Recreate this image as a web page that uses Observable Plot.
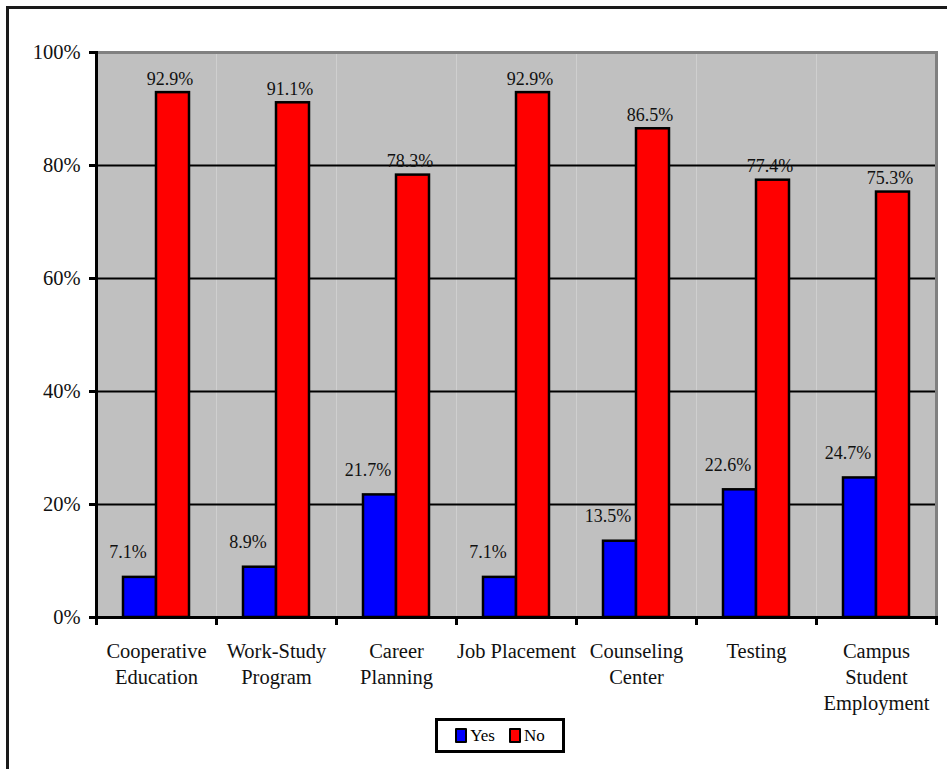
<!DOCTYPE html>
<html>
<head>
<meta charset="utf-8">
<script src="https://cdn.jsdelivr.net/npm/d3@7"></script>
<script src="https://cdn.jsdelivr.net/npm/@observablehq/plot@0.6"></script>
<style>
  html, body { margin: 0; padding: 0; background: #fff; overflow: hidden; width: 947px; height: 769px; }
  #outer { position: absolute; left: 6px; top: 6px; width: 941px; height: 763px; border-left: 3px solid #1a1a1a; border-top: 3px solid #1a1a1a; box-sizing: border-box; }
  #chart { position: absolute; left: 0; top: 0; width: 947px; height: 720px; overflow: hidden; }
  #legend { position: absolute; left: 435px; top: 718px; width: 130px; height: 35px; border: 3px solid #000; box-sizing: border-box;
    display: flex; align-items: center; justify-content: center; gap: 14px; font-family: "Liberation Serif", "Times New Roman", serif; font-size: 17px; color: #000; background: #fff; }
  .item { display: flex; align-items: center; gap: 3px; }
  .sw { width: 8px; height: 11px; border: 2px solid #000; border-radius: 1px; }
</style>
</head>
<body>
<div id="outer"></div>
<div id="chart"></div>
<div id="legend"></div>
<script>
const categories = ["Cooperative Education", "Work-Study Program", "Career Planning", "Job Placement", "Counseling Center", "Testing", "Campus Student Employment"];
const tickLabels = ["Cooperative\nEducation", "Work-Study\nProgram", "Career\nPlanning", "Job Placement", "Counseling\nCenter", "Testing", "Campus\nStudent\nEmployment"];
const yesValues = [7.1, 8.9, 21.7, 7.1, 13.5, 22.6, 24.7];
const noValues = [92.9, 91.1, 78.3, 92.9, 86.5, 77.4, 75.3];
const seriesNames = ["Yes", "No"];
const seriesColors = ["#0000ff", "#ff0000"];
const yTicks = [0, 20, 40, 60, 80, 100];

const yesData = categories.map((c, i) => ({category: c, series: "Yes", value: yesValues[i]}));
const noData = categories.map((c, i) => ({category: c, series: "No", value: noValues[i]}));
const data = yesData.concat(noData);

const W = 947, H = 720, mT = 52, mB = 103, mL = 95, mR = 10;
const plotH = H - mT - mB;
const fmt = d => d.value.toFixed(1) + "%";

const chart = Plot.plot({
  width: W, height: H,
  marginTop: mT, marginBottom: mB, marginLeft: mL, marginRight: mR,
  style: {fontFamily: "'Liberation Serif', 'Times New Roman', serif", fontSize: "20.5px", color: "#000", background: "transparent"},
  fx: {domain: categories, padding: 0, label: null},
  x: {domain: seriesNames, paddingInner: 0, paddingOuter: 0.78, axis: null},
  y: {domain: [0, 100], label: null},
  color: {domain: seriesNames, range: seriesColors},
  marks: [
    Plot.frame({fill: "#c0c0c0", stroke: null}),
    Plot.gridY(yTicks.slice(1, -1), {stroke: "#000", strokeOpacity: 1, strokeWidth: 2}),
    Plot.ruleY([100], {stroke: "#808080", strokeWidth: 3}),
    Plot.frame({anchor: "right", facetAnchor: "right", stroke: "#808080", strokeWidth: 3}),
    Plot.barY(data, {fx: "category", x: "series", y: "value", fill: "series", stroke: "#000", strokeWidth: 2.5}),
    Plot.text(yesData, {fx: "category", x: "series", y: "value", text: fmt, lineAnchor: "bottom", dy: -19, dx: -12, fontSize: 18, fill: "#111"}),
    Plot.text(noData, {fx: "category", x: "series", y: "value", text: fmt, lineAnchor: "bottom", dy: -8, dx: -3, fontSize: 18, fill: "#111"}),
    Plot.ruleY([0], {stroke: "#000", strokeWidth: 3}),
    Plot.frame({anchor: "left", facetAnchor: "left", stroke: "#000", strokeWidth: 3}),
    Plot.frame({anchor: "left", stroke: "#000", strokeWidth: 3, insetTop: plotH, insetBottom: -6}),
    Plot.frame({anchor: "right", facetAnchor: "right", stroke: "#000", strokeWidth: 3, insetTop: plotH, insetBottom: -6}),
    Plot.axisY(yTicks, {tickFormat: d => d + "%", tickSize: 7, tickPadding: 9, strokeWidth: 3, fill: "#111", label: null}),
    Plot.axisFx({anchor: "bottom", tickSize: 0, tickPadding: 22, lineHeight: 1.27, tickFormat: d => tickLabels[categories.indexOf(d)], fill: "#111", label: null})
  ]
});
document.getElementById("chart").appendChild(chart);

const legend = document.getElementById("legend");
seriesNames.forEach((s, i) => {
  const item = document.createElement("div");
  item.className = "item";
  const sw = document.createElement("div");
  sw.className = "sw";
  sw.style.background = seriesColors[i];
  const t = document.createElement("span");
  t.textContent = s;
  item.appendChild(sw);
  item.appendChild(t);
  legend.appendChild(item);
});
</script>
</body>
</html>
